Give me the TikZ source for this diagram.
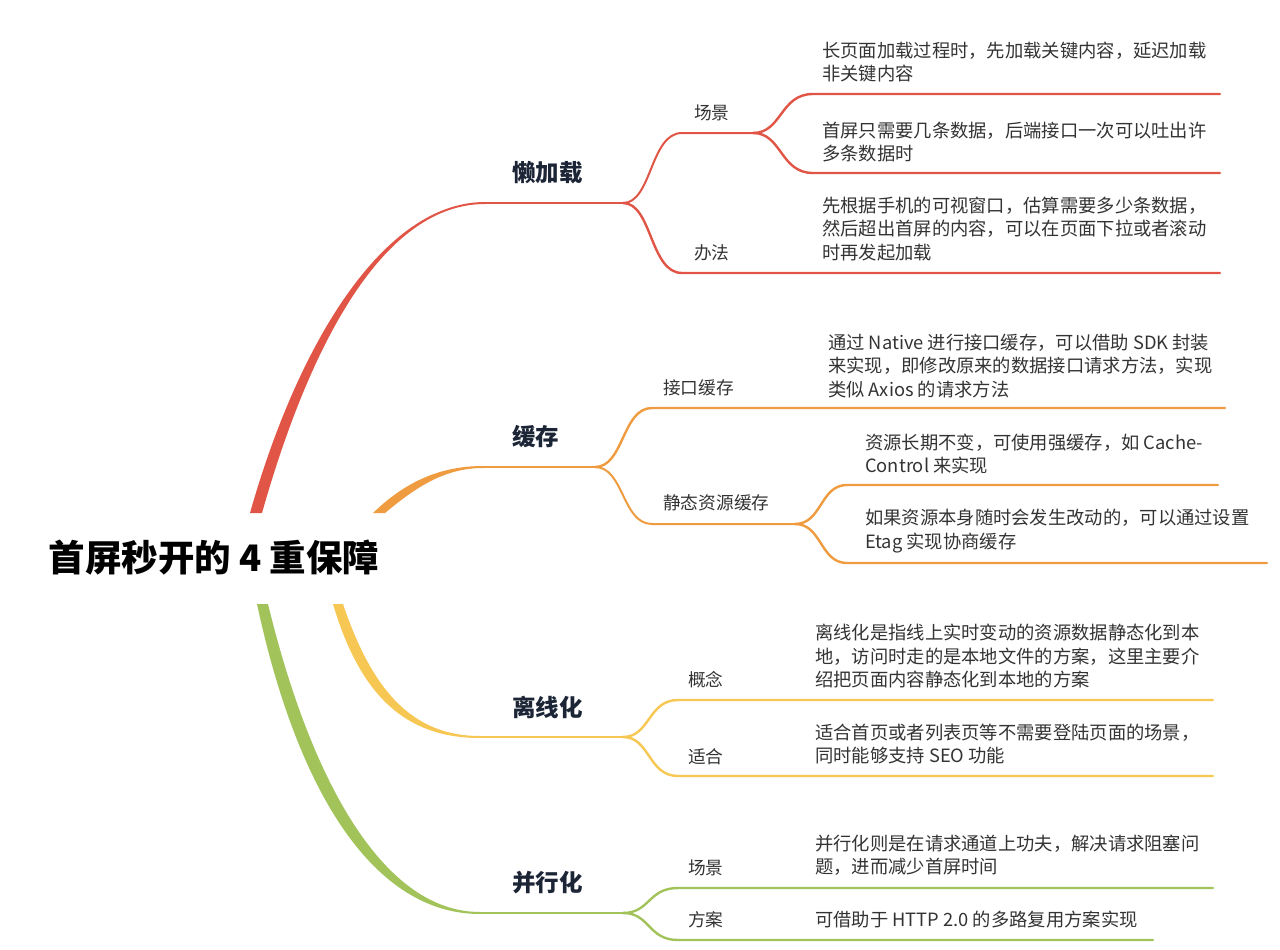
\documentclass[tikz,border=0pt]{standalone}
\usepackage{fontspec}
\setmainfont{Noto Sans CJK SC}
\definecolor{cred}{HTML}{E05546}
\definecolor{corange}{HTML}{EF9B3F}
\definecolor{cyellow}{HTML}{F6C853}
\definecolor{cgreen}{HTML}{A1C35A}
\definecolor{navy}{HTML}{1C2536}
\definecolor{txt}{HTML}{333333}
\begin{document}
\begin{tikzpicture}[x=1pt,y=-1pt,
  rootlbl/.style={inner sep=0pt, font=\bfseries\fontsize{36.5}{42}\selectfont, text=black},
  mainlbl/.style={anchor=west, inner sep=0pt, font=\bfseries\fontsize{23.5}{28}\selectfont, text=navy},
  sublbl/.style={anchor=west, inner sep=0pt, font=\fontsize{17.7}{21}\selectfont, text=txt},
  leaf/.style={anchor=west, inner sep=0pt, align=left, font=\fontsize{18.3}{23.5}\selectfont, text=txt},
  branch/.style={line width=2pt, line cap=round},
  leafline/.style={line width=2.4pt, line cap=round}]
\useasboundingbox (0,0) rectangle (1280,950);

% root
\node[rootlbl] (root) at (214,558) {首屏秒开的 4 重保障};

% ===== red: 懒加载 =====
\coordinate (r1) at (485,203);
\coordinate (rs) at (623,203);
\coordinate (rs2) at (753,133);
\coordinate (rl1e) at (1220,94);
\coordinate (rl2e) at (1220,173);
\coordinate (rl3e) at (1220,273);
\fill[cred] (250,513) .. controls (299,340) and (385,202) .. (485,202)
  -- (485,204) .. controls (385,204) and (311,340) .. (262,513) -- cycle;
\draw[branch,cred] (r1) -- (rs);
\node[mainlbl] (lazy) at (512,173) {懒加载};
\draw[branch,cred] (rs) .. controls (652,203) and (650,133) .. (682,133) -- (rs2);
\draw[leafline,cred] (rs) .. controls (652,203) and (650,273) .. (682,273) -- (rl3e);
\node[sublbl] (r_cj) at (694,113) {场景};
\node[sublbl] (r_bf) at (694,253) {办法};
\draw[leafline,cred] (rs2) .. controls (782,133) and (780,94) .. (813,94) -- (rl1e);
\draw[leafline,cred] (rs2) .. controls (782,133) and (780,173) .. (813,173) -- (rl2e);
\node[leaf] (rt1) at (822,62) {长页面加载过程时，先加载关键内容，延迟加载\\非关键内容};
\node[leaf] (rt2) at (822,142) {首屏只需要几条数据，后端接口一次可以吐出许\\多条数据时};
\node[leaf] (rt3) at (822,229) {先根据手机的可视窗口，估算需要多少条数据，\\然后超出首屏的内容，可以在页面下拉或者滚动\\时再发起加载};

% ===== orange: 缓存 =====
\coordinate (o1) at (483,467);
\coordinate (os) at (595,467);
\coordinate (os2) at (795,524);
\coordinate (ol1e) at (1225,408);
\coordinate (ol2e) at (1218,485);
\coordinate (ol3e) at (1267,563);
\fill[corange] (373,513) .. controls (405,482) and (440,466) .. (483,466)
  -- (483,468) .. controls (444,468) and (415,488) .. (385,513) -- cycle;
\draw[branch,corange] (o1) -- (os);
\node[mainlbl] (cache) at (512,437) {缓存};
\draw[leafline,corange] (os) .. controls (624,467) and (622,408) .. (652,408) -- (ol1e);
\draw[branch,corange] (os) .. controls (624,467) and (622,524) .. (652,524) -- (os2);
\node[sublbl] (o_jk) at (663,388) {接口缓存};
\node[sublbl] (o_jt) at (663,503) {静态资源缓存};
\draw[leafline,corange] (os2) .. controls (822,524) and (820,485) .. (847,485) -- (ol2e);
\draw[leafline,corange] (os2) .. controls (822,524) and (820,563) .. (847,563) -- (ol3e);
\node[leaf] (ot1) at (828,366) {通过 Native 进行接口缓存，可以借助 SDK 封装\\来实现，即修改原来的数据接口请求方法，实现\\类似 Axios 的请求方法};
\node[leaf] (ot2) at (865,454) {资源长期不变，可使用强缓存，如 Cache-\\Control 来实现};
\node[leaf] (ot3) at (865,531) {如果资源本身随时会发生改动的，可以通过设置\\Etag 实现协商缓存};

% ===== yellow: 离线化 =====
\coordinate (y1) at (480,737);
\coordinate (ys) at (623,737);
\coordinate (yl1e) at (1213,700);
\coordinate (yl2e) at (1213,776);
\fill[cyellow] (333,604) .. controls (360,695) and (405,738) .. (480,738)
  -- (480,736) .. controls (412,736) and (372,690) .. (343,604) -- cycle;
\draw[branch,cyellow] (y1) -- (ys);
\node[mainlbl] (offline) at (512,707) {离线化};
\draw[leafline,cyellow] (ys) .. controls (650,737) and (648,700) .. (678,700) -- (yl1e);
\draw[leafline,cyellow] (ys) .. controls (650,737) and (648,776) .. (678,776) -- (yl2e);
\node[sublbl] (y_gn) at (688,680) {概念};
\node[sublbl] (y_sh) at (688,757) {适合};
\node[leaf] (yt1) at (815,656) {离线化是指线上实时变动的资源数据静态化到本\\地，访问时走的是本地文件的方案，这里主要介\\绍把页面内容静态化到本地的方案};
\node[leaf] (yt2) at (815,744) {适合首页或者列表页等不需要登陆页面的场景，\\同时能够支持 SEO 功能};

% ===== green: 并行化 =====
\coordinate (g1) at (480,913);
\coordinate (gs) at (623,913);
\coordinate (gl1e) at (1213,888);
\coordinate (gl2e) at (1153,940);
\fill[cgreen] (257,604) .. controls (298,795) and (375,914) .. (480,914)
  -- (480,912) .. controls (385,912) and (312,785) .. (268,604) -- cycle;
\draw[branch,cgreen] (g1) -- (gs);
\node[mainlbl] (parallel) at (512,883) {并行化};
\draw[leafline,cgreen] (gs) .. controls (650,913) and (648,888) .. (678,888) -- (gl1e);
\draw[leafline,cgreen] (gs) .. controls (650,913) and (648,940) .. (678,940) -- (gl2e);
\node[sublbl] (g_cj) at (688,868) {场景};
\node[sublbl] (g_fa) at (688,920) {方案};
\node[leaf] (gt1) at (815,855) {并行化则是在请求通道上功夫，解决请求阻塞问\\题，进而减少首屏时间};
\node[leaf] (gt2) at (815,920) {可借助于 HTTP 2.0 的多路复用方案实现};
\end{tikzpicture}
\end{document}
